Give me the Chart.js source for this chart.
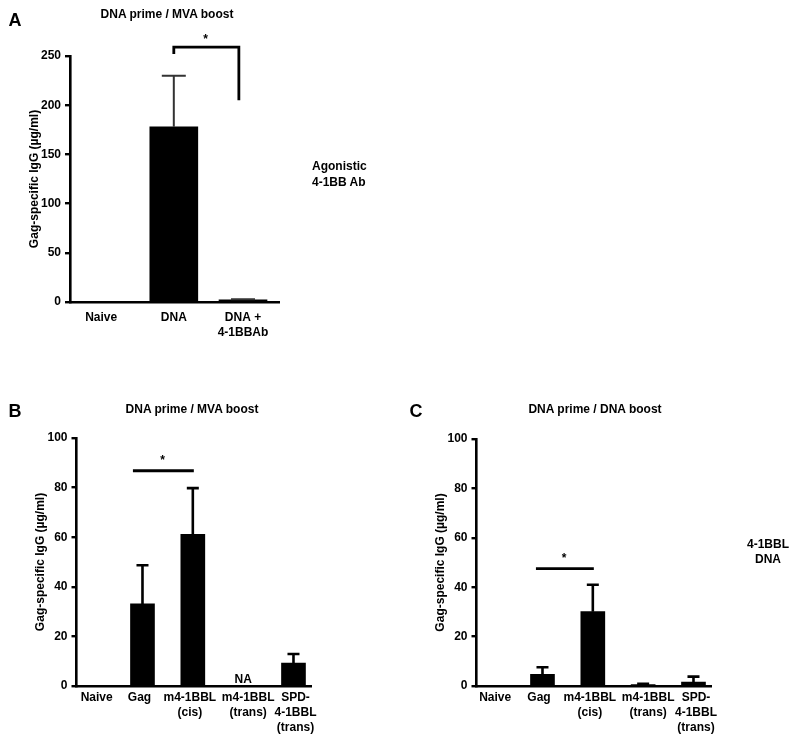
<!DOCTYPE html>
<html>
<head>
<meta charset="utf-8">
<script src="https://cdn.jsdelivr.net/npm/chart.js@4.4.0/dist/chart.umd.min.js"></script>
<style>
  body { margin: 0; background: #fff; }
  #page { position: relative; width: 800px; height: 741px; overflow: hidden;
          font-family: "Liberation Sans", Arial, sans-serif; font-weight: bold; color: #000; }
  .panel { position: absolute; }
  .txt { position: absolute; white-space: nowrap; transform: translate(-50%, -50%); font-size: 12px; }
  .letter { font-size: 18px; }
  .left { transform: translate(0, -50%); }
</style>
</head>
<body>
<div id="page">
  <div class="panel" style="left:0;top:0;"><canvas id="chartA" width="400" height="345"></canvas></div>
  <div class="panel" style="left:0;top:380px;"><canvas id="chartB" width="400" height="361"></canvas></div>
  <div class="panel" style="left:400px;top:380px;"><canvas id="chartC" width="400" height="361"></canvas></div>

  <div class="txt letter" style="left:15px;top:20px;">A</div>
  <div class="txt" style="left:167px;top:14px;">DNA prime / MVA boost</div>
  <div class="txt left" style="left:312px;top:166px;">Agonistic</div>
  <div class="txt left" style="left:312px;top:182px;">4-1BB Ab</div>

  <div class="txt letter" style="left:15px;top:411px;">B</div>
  <div class="txt" style="left:192px;top:409px;">DNA prime / MVA boost</div>

  <div class="txt letter" style="left:416px;top:411px;">C</div>
  <div class="txt" style="left:595px;top:409px;">DNA prime / DNA boost</div>
  <div class="txt" style="left:768px;top:544px;">4-1BBL</div>
  <div class="txt" style="left:768px;top:559px;">DNA</div>
</div>

<script>
// panel A: DNA prime / MVA boost, agonistic 4-1BB antibody
const catsA = ["Naive", "DNA", ["DNA +", "4-1BBAb"]];
const meanA = [0, 178, 2.3];
const semA = [0, 52, 0.5];
const ticksA = [0, 50, 100, 150, 200, 250];

// panel B: DNA prime / MVA boost
const catsB = ["Naive", "Gag", ["m4-1BBL", "(cis)"], ["m4-1BBL", "(trans)"], ["SPD-", "4-1BBL", "(trans)"]];
const meanB = [0, 33.1, 61.2, null, 9.2];
const semB = [0, 15.6, 18.6, null, 3.7];

// panel C: DNA prime / DNA boost
const catsC = catsB;
const meanC = [0, 4.7, 30.1, 0.6, 1.6];
const semC = [0, 2.9, 10.9, 0.3, 2.2];
const ticksBC = [0, 20, 40, 60, 80, 100];

const FONT = "'Liberation Sans', Arial, sans-serif";

function makeExtras(o) {
  return {
    id: "extras",
    afterDatasetsDraw(chart) {
      const ctx = chart.ctx;
      const xs = chart.scales.x, ys = chart.scales.y;
      const meta = chart.getDatasetMeta(0);
      ctx.save();
      // upper error bars
      ctx.strokeStyle = o.errColor;
      ctx.lineWidth = o.errWidth;
      meta.data.forEach((bar, i) => {
        const v = o.means[i], e = o.sems[i];
        if (v == null || !e) return;
        const top = ys.getPixelForValue(v + e);
        const half = o.barW / 4;
        ctx.beginPath();
        ctx.moveTo(bar.x, bar.y);
        ctx.lineTo(bar.x, top);
        ctx.moveTo(bar.x - half, top);
        ctx.lineTo(bar.x + half, top);
        ctx.stroke();
      });
      // significance marks
      ctx.strokeStyle = "#000";
      ctx.fillStyle = "#000";
      ctx.lineWidth = 2.8;
      const s = o.sig;
      const x1 = xs.getPixelForValue(s.from), x2 = xs.getPixelForValue(s.to);
      const yl = ys.getPixelForValue(s.level);
      ctx.beginPath();
      if (s.leftDrop != null) {
        ctx.moveTo(x1, ys.getPixelForValue(s.leftDrop));
        ctx.lineTo(x1, yl);
      } else {
        ctx.moveTo(x1, yl);
      }
      ctx.lineTo(x2, yl);
      if (s.rightDrop != null) ctx.lineTo(x2, ys.getPixelForValue(s.rightDrop));
      ctx.stroke();
      ctx.font = "bold 12px " + FONT;
      ctx.textAlign = "center";
      ctx.textBaseline = "middle";
      ctx.fillText("*", xs.getPixelForValue(s.starX), ys.getPixelForValue(s.starY));
      // NA labels
      o.means.forEach((v, i) => {
        if (v === null) {
          ctx.textBaseline = "alphabetic";
          ctx.fillText("NA", xs.getPixelForValue(i), ys.getPixelForValue(0) - 3);
        }
      });
      ctx.restore();
    }
  };
}

function makeChart(id, o) {
  const tickFont = { family: FONT, size: 12, weight: "bold", lineHeight: 1.25 };
  return new Chart(document.getElementById(id), {
    type: "bar",
    data: {
      datasets: [{
        data: o.means.map((v, i) => ({ x: i, y: v })),
        backgroundColor: "#000",
        borderWidth: 0,
        barThickness: o.barW
      }]
    },
    options: {
      responsive: false,
      animation: false,
      events: [],
      layout: { padding: o.pad },
      plugins: { legend: { display: false }, tooltip: { enabled: false } },
      scales: {
        x: {
          type: "linear",
          offset: false,
          min: o.xMin,
          max: o.xMax,
          // label centres sit slightly off the bar centres, as in the figure
          afterBuildTicks: (sc) => { sc.ticks = o.cats.map((c, i) => ({ value: i + o.labelShift[i] })); },
          afterFit: (sc) => { sc.height = o.xH; },
          grid: { display: false, drawTicks: false, offset: false },
          border: { display: true, color: "#000", width: 2.6 },
          ticks: {
            autoSkip: false, maxRotation: 0, padding: o.xPad, color: "#000",
            font: tickFont, callback: (v, idx) => o.cats[idx]
          }
        },
        y: {
          min: 0,
          max: o.yTicks[o.yTicks.length - 1],
          afterBuildTicks: (sc) => { sc.ticks = o.yTicks.map((v) => ({ value: v })); },
          afterFit: (sc) => { sc.width = o.yW; },
          grid: { drawOnChartArea: false, drawTicks: true, tickLength: 5, color: "#000", lineWidth: 2.4 },
          border: { display: true, color: "#000", width: 2.6 },
          ticks: { padding: 4, color: "#000", font: tickFont },
          title: {
            display: true, text: "Gag-specific IgG (µg/ml)", color: "#000",
            font: { family: FONT, size: 12, weight: "bold" }
          }
        }
      }
    },
    plugins: [makeExtras(o)]
  });
}

makeChart("chartA", {
  cats: catsA, means: meanA, sems: semA, yTicks: ticksA,
  barW: 48, xMin: -0.5, xMax: 2.52, yW: 47, xPad: 8, xH: 43,
  labelShift: [-0.05, 0, 0],
  pad: { left: 23, top: 56, right: 121, bottom: 0 },
  errColor: "#333", errWidth: 2,
  sig: { from: 1, to: 1.94, level: 259, leftDrop: 252, rightDrop: 205, starX: 1.46, starY: 267 }
});

makeChart("chartB", {
  cats: catsB, means: meanB, sems: semB, yTicks: ticksBC,
  barW: 24, xMin: -0.311, xMax: 4.348, yW: 47.5, xPad: 4, xH: 55,
  labelShift: [0.09, -0.06, -0.06, 0.1, 0.04],
  pad: { left: 29, top: 58, right: 89, bottom: 0 },
  errColor: "#000", errWidth: 2.6,
  sig: { from: 0.81, to: 2.02, level: 86.8, starX: 1.40, starY: 90.8 }
});

makeChart("chartC", {
  cats: catsC, means: meanC, sems: semC, yTicks: ticksBC,
  barW: 24, xMin: -0.311, xMax: 4.348, yW: 47.5, xPad: 4, xH: 55,
  labelShift: [0.06, -0.07, -0.06, 0.1, 0.05],
  pad: { left: 29, top: 59, right: 89, bottom: 0 },
  errColor: "#000", errWidth: 2.6,
  sig: { from: 0.87, to: 2.02, level: 47.5, starX: 1.43, starY: 51.7 }
});
</script>
</body>
</html>
